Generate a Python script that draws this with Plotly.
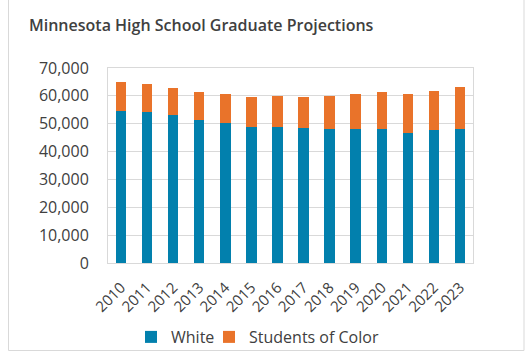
import plotly.graph_objects as go

years = [str(y) for y in range(2010, 2024)]
white = [54700, 54100, 53100, 51400, 50400, 48900, 48700, 48500, 48200, 48000, 48100, 46800, 47900, 48100]
students_of_color = [10200, 10300, 9900, 10000, 10400, 10700, 11200, 11100, 11900, 12500, 13200, 13700, 14000, 15000]

W, H = 529, 352
L, R, T, B = 108, 56, 68, 89
pw, ph = W - L - R, H - T - B

fig = go.Figure()
fig.add_bar(x=years, y=white, name="White", marker_color="#0280AD",
            marker_line_width=0, legend="legend")
fig.add_bar(x=years, y=students_of_color, name="Students of Color", marker_color="#E9732A",
            marker_line_width=0, legend="legend2")

font = "Open Sans, Noto Sans, sans-serif"
leg_common = dict(orientation="h", xanchor="left", yanchor="middle", yref="container",
                  y=(H - 337) / H, font=dict(size=16, color="#404040"),
                  itemwidth=30, bgcolor="rgba(0,0,0,0)")
fig.update_layout(
    barmode="stack",
    bargap=0.6,
    width=W, height=H,
    margin=dict(l=L, r=R, t=T, b=B, pad=0),
    paper_bgcolor="white", plot_bgcolor="white",
    font=dict(family=font, color="#404040", size=16),
    title=dict(text="Minnesota High School Graduate Projections",
               x=29 / W, xanchor="left", xref="container",
               y=1 - 25 / H, yanchor="middle", yref="container",
               font=dict(family=font, size=16, color="#404040", weight=600)),
    showlegend=True,
    legend=dict(x=(131 - L) / pw, **leg_common),
    legend2=dict(x=(209 - L) / pw, **leg_common),
    xaxis=dict(tickangle=-45, showline=True, linecolor="#d9d9d9", mirror=True,
               showgrid=False, tickfont=dict(size=15, color="#404040"),
               ticks="outside", ticklen=9, tickcolor="rgba(0,0,0,0)",
               automargin=False, fixedrange=True),
    yaxis=dict(range=[0, 70000], dtick=10000, tickformat=",", showgrid=True,
               gridcolor="#d9d9d9", gridwidth=1, showline=True, linecolor="#d9d9d9",
               mirror=True, zeroline=False, ticks="outside", ticklen=15,
               tickcolor="rgba(0,0,0,0)", tickfont=dict(size=16, color="#404040"),
               automargin=False),
)

# outer chart border
fig.add_shape(type="rect", xref="paper", yref="paper",
              x0=(8.5 - L) / pw, x1=(524 - L) / pw,
              y0=(T + ph - 350.5) / ph, y1=(T + ph + 5) / ph,
              line=dict(color="#d9d9d9", width=1), layer="below")

fig.write_html("out.html")
